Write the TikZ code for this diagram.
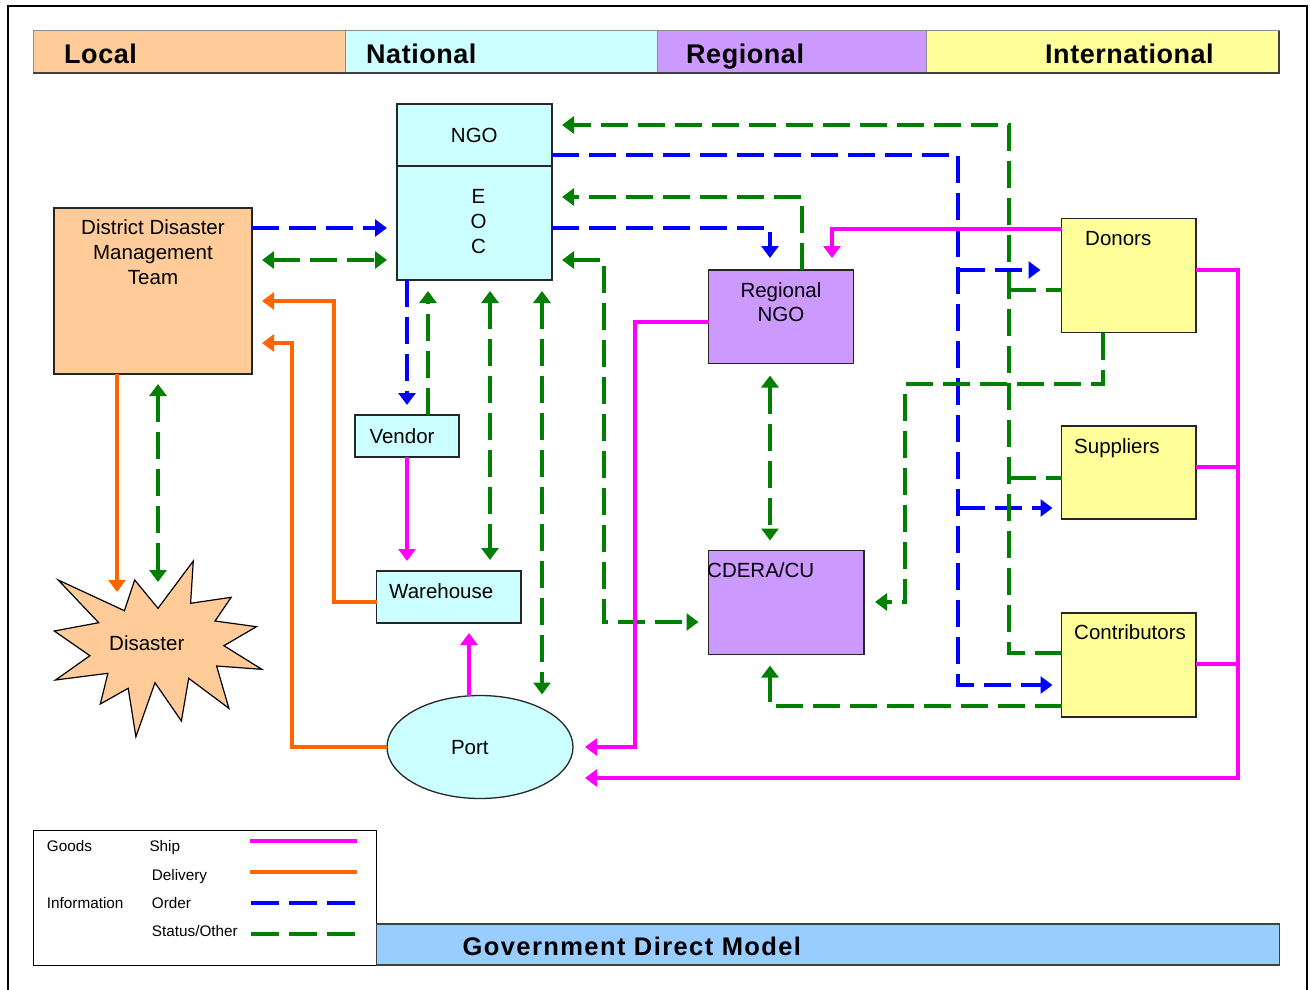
\documentclass[tikz,border=0pt]{standalone}
\usepackage{fontspec}
\setmainfont{Liberation Sans}
\usetikzlibrary{arrows.meta,shapes.geometric}
\definecolor{cLocal}{HTML}{FFCC99}
\definecolor{cNat}{HTML}{CCFFFF}
\definecolor{cReg}{HTML}{CC99FF}
\definecolor{cInt}{HTML}{FFFF99}
\definecolor{cGov}{HTML}{99CCFF}
\definecolor{cShip}{HTML}{FF00FF}
\definecolor{cDel}{HTML}{FF6600}
\definecolor{cOrd}{HTML}{0000FF}
\definecolor{cStat}{HTML}{008000}
\begin{document}
\begin{tikzpicture}[x=1pt,y=-1pt,
  box/.style={draw=black!85, line width=1.3pt, inner sep=0pt, outer sep=0pt, anchor=north west},
  band/.style={draw=black!45, line width=1pt, inner sep=0pt, outer sep=0pt, anchor=north west, minimum height=42pt},
  txt/.style={inner sep=0pt, font=\fontsize{20.5}{25}\selectfont, align=center},
  htxt/.style={inner sep=0pt, anchor=base west, font=\fontsize{27}{32}\selectfont\bfseries\addfontfeature{LetterSpace=2}},
  ltxt/.style={inner sep=0pt, anchor=base west, font=\fontsize{15.3}{18}\selectfont},
  ship/.style={draw=cShip, line width=3.3pt},
  deliv/.style={draw=cDel, line width=3.3pt},
  order/.style={draw=cOrd, line width=4pt, dash pattern=on 27pt off 10pt},
  stat/.style={draw=cStat, line width=4pt, dash pattern=on 27pt off 10pt},
  endarrow/.style={-{Triangle[length=12pt,width=17pt]}},
  botharrow/.style={{Triangle[length=12pt,width=17pt]}-{Triangle[length=12pt,width=17pt]}},
]
\useasboundingbox (0,0) rectangle (1310,990);
\fill[white] (0,0) rectangle (1310,990);
\draw[black, line width=2.5pt] (8,6) rectangle (1307,994);

% ---------- header band ----------
\node[band, fill=cLocal, minimum width=312pt] (hl) at (33,31) {};
\node[band, fill=cNat, minimum width=312pt] (hn) at (345,31) {};
\node[band, fill=cReg, minimum width=269pt] (hr) at (657,31) {};
\node[band, fill=cInt, minimum width=353pt] (hi) at (926,31) {};
\draw[black!75, line width=1.3pt] (hl.south west) -- (hi.south east) -- (hi.north east);
\node[htxt] (tl) at (64,63.3) {Local};
\node[htxt] (tn) at (366,63.3) {National};
\node[htxt] (tr) at (686,63.3) {Regional};
\node[htxt] (ti) at (1045,63.3) {International};

% ---------- boxes ----------
\node[box, fill=cLocal, minimum width=198pt, minimum height=166pt] (ddmt) at (54,208) {};
\node[txt] (ddmtT) at (153,252.5) {District Disaster\\Management\\Team};

\node[box, fill=cNat, minimum width=155pt, minimum height=62pt] (ngo) at (397,104) {};
\node[box, fill=cNat, minimum width=155pt, minimum height=114pt] (eoc) at (397,166) {};
\node[txt, anchor=base] (ngoT) at (474.3,142.3) {NGO};
\node[txt] (eocT) at (478.5,221.6) {E\\O\\C};

\node[box, fill=cNat, minimum width=104pt, minimum height=42pt] (vendor) at (355,415) {};
\node[txt, anchor=base] (vendorT) at (402,443.3) {Vendor};

\node[box, fill=cNat, minimum width=144.5pt, minimum height=52pt] (warehouse) at (376.5,571) {};
\node[txt, anchor=base west] (warehouseT) at (389,598.3) {Warehouse};

\node[ellipse, draw=black!85, line width=1.3pt, fill=cNat, inner sep=0pt, outer sep=0pt,
      minimum width=186pt, minimum height=103pt] (port) at (480,747) {};
\node[txt, anchor=base] (portT) at (469.8,754.3) {Port};

\node[box, fill=cReg, minimum width=145pt, minimum height=93.5pt] (rngo) at (708.5,270) {};
\node[txt, font=\fontsize{20.5}{24.4}\selectfont] (rngoT) at (781,302) {Regional\\NGO};

\node[box, fill=cReg, minimum width=155.5pt, minimum height=104pt] (cdera) at (708.5,550.5) {};
\node[txt, anchor=base west] (cderaT) at (707,577.3) {CDERA/CU};

\node[box, fill=cInt, minimum width=134.5pt, minimum height=114pt] (donors) at (1061.5,218.5) {};
\node[txt, anchor=base west] (donorsT) at (1085,245) {Donors};
\node[box, fill=cInt, minimum width=134.5pt, minimum height=93pt] (suppliers) at (1061.5,426) {};
\node[txt, anchor=base west] (suppliersT) at (1074,453.3) {Suppliers};
\node[box, fill=cInt, minimum width=134.5pt, minimum height=104pt] (contrib) at (1061.5,613) {};
\node[txt, anchor=base west] (contribT) at (1074,639) {Contributors};

% disaster starburst
\draw[fill=cLocal, draw=black, line width=1.2pt, line join=miter]
  (58.2,580) -- (124.4,610.7) -- (134.7,580) -- (158,608.3) -- (193.3,561) -- (190.6,603.3)
  -- (231.2,597.3) -- (215,621) -- (256.4,626.7) -- (223.9,645.7) -- (261.8,669.3)
  -- (216.6,666) -- (228.9,708.3) -- (188.7,678.3) -- (181.4,721) -- (155,682.7)
  -- (135.9,736.7) -- (128.2,688.3) -- (100.3,704) -- (107.9,673.3) -- (55.5,680)
  -- (89.9,655.7) -- (54.3,631) -- (98.7,622.7) -- cycle;
\node[txt, anchor=base] (disaster) at (146.8,650) {Disaster};
\coordinate (dtip1) at (117,592);
\coordinate (dtip2) at (158,582);

% ---------- connectors ----------
% DDMT <-> EOC
\draw[order, endarrow, shorten >=10pt] (ddmt.east |- 0,228) -- (eoc.west |- 0,228);
\draw[stat, botharrow, shorten <=10pt, shorten >=10pt] (ddmt.east |- 0,260) -- (eoc.west |- 0,260);

% NGO orders to international
\coordinate (bj1) at (958,270);
\coordinate (bj2) at (958,508);
\draw[order, endarrow, shorten >=9pt] (ngo.east |- 0,155) -| (958,685) -- (contrib.west |- 0,685);
\draw[order, endarrow, shorten >=21pt] (bj1) -- (donors.west |- 0,270);
\draw[order, endarrow, shorten >=9pt] (bj2) -- (suppliers.west |- 0,508);

% EOC order to Regional NGO
\draw[order, endarrow, shorten >=12pt] (eoc.east |- 0,228) -| (rngo.north -| 770,0);

% status from international to NGO
\coordinate (gj1) at (1009,290);
\coordinate (gj2) at (1009,478);
\draw[stat, endarrow, shorten >=10pt] (contrib.west |- 0,653) -| (1009,125) -- (ngo.east |- 0,125);
\draw[stat] (gj1) -- (donors.west |- 0,290);
\draw[stat] (gj2) -- (suppliers.west |- 0,478);

% Regional NGO status to EOC
\draw[stat, endarrow, shorten >=10pt] (rngo.north -| 802,0) |- (eoc.east |- 0,197);

% EOC <-> CDERA
\draw[stat, botharrow, shorten <=10pt, shorten >=10pt] (eoc.east |- 0,260) -| (604,622) -- (cdera.west |- 0,622);

% Regional NGO <-> CDERA
\draw[stat, botharrow, shorten <=12pt, shorten >=10pt] (rngo.south -| 770,0) -- (cdera.north -| 770,0);

% Donors -> CDERA
\draw[stat, endarrow, shorten >=11pt] (donors.south -| 1103,0) |- (905,384) |- (cdera.east |- 0,602);

% Contributors -> CDERA
\draw[stat, endarrow, shorten >=11pt] (contrib.west |- 0,706) -| (cdera.south -| 770,0);

% ships
\draw[ship, endarrow, shorten >=12pt] (donors.west |- 0,229) -| (rngo.north -| 832,0);
\draw[ship, endarrow, shorten >=12pt] (rngo.west |- 0,322) -| (635,747) -- (port.east);
\coordinate (mj1) at (1238,467);
\coordinate (mj2) at (1238,664);
\draw[ship, endarrow, shorten >=12pt] (donors.east |- 0,270) -| (1238,778) -- (port.east |- 0,778);
\draw[ship] (suppliers.east |- 0,467) -- (mj1);
\draw[ship] (contrib.east |- 0,664) -- (mj2);
\draw[ship, endarrow, shorten >=10pt] (vendor.south) -- (warehouse.north -| vendor.south);
\draw[ship, endarrow, shorten >=10pt] (port.north -| 469,0) -- (warehouse.south -| 469,0);

% EOC <-> Vendor, Warehouse, Port
\draw[order, endarrow, shorten >=10pt] (eoc.south -| 407,0) -- (vendor.north -| 407,0);
\draw[stat, endarrow, shorten >=11pt] (vendor.north -| 428,0) -- (eoc.south -| 428,0);
\draw[stat, botharrow, shorten <=11pt, shorten >=11pt] (eoc.south -| 490,0) -- (warehouse.north -| 490,0);
\draw[stat, botharrow, shorten <=11pt, shorten >=1pt] (eoc.south -| 542,0) -- (port.north -| 542,0);

% DDMT <-> Disaster
\draw[deliv, endarrow] (ddmt.south -| dtip1) -- (dtip1);
\draw[stat, botharrow, shorten <=10pt] (ddmt.south -| dtip2) -- (dtip2);

% deliveries to DDMT
\draw[deliv, endarrow, shorten >=10pt] (warehouse.west |- 0,602) -| (334,301) -- (ddmt.east |- 0,301);
\draw[deliv, endarrow, shorten >=10pt] (port.west) -| (292,343) -- (ddmt.east |- 0,343);

% ---------- legend ----------
\node[box, fill=white, draw=black, minimum width=343pt, minimum height=135pt] (legend) at (33.3,830.7) {};
\node[box, fill=cGov, draw=black!75, minimum width=903pt, minimum height=41pt] (gov) at (376.5,924) {};
\node[inner sep=0pt, anchor=base west, font=\fontsize{25.5}{30}\selectfont\bfseries\addfontfeature{LetterSpace=5.5}] (govT) at (462.5,955) {Government Direct Model};
\node[ltxt] (lgGoods) at (46.7,851.7) {Goods};
\node[ltxt] (lgShip) at (149.3,851.7) {Ship};
\node[ltxt] (lgDel) at (151.7,880.3) {Delivery};
\node[ltxt] (lgInfo) at (46.7,908.3) {Information};
\node[ltxt] (lgOrd) at (151.7,908.3) {Order};
\node[ltxt] (lgStat) at (151.7,936) {Status/Other};
\draw[ship] (250,841) -- (356.7,841);
\draw[deliv] (250,872) -- (356.7,872);
\draw[order, dash pattern=on 28pt off 10pt] (251,902.7) -- (356,902.7);
\draw[stat, dash pattern=on 28pt off 10pt] (251,934) -- (356,934);
\end{tikzpicture}
\end{document}
